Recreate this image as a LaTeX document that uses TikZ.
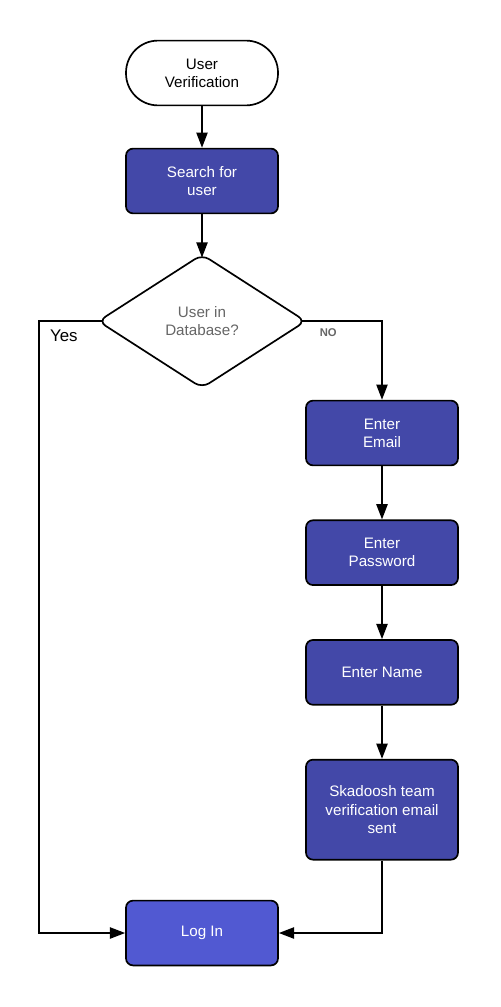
\documentclass[tikz,border=0pt]{standalone}
\usepackage{fontspec}
\setmainfont{Liberation Sans}
\usepackage{xcolor}
\usepackage{tikz}
\usetikzlibrary{positioning, arrows.meta, shapes.geometric, calc, backgrounds}

\definecolor{boxblue}{RGB}{67,72,168}
\definecolor{loginblue}{RGB}{81,89,210}
\definecolor{labelgray}{RGB}{102,102,102}

\begin{document}
\begin{tikzpicture}[
    >={Triangle[length=3.8mm, width=2.8mm]},
    node distance=1.33cm,
    every node/.style={font=\fontsize{10.8}{13}\selectfont},
    terminal/.style={draw, line width=1.2pt, rounded corners=0.8cm, minimum width=3.8cm, minimum height=1.62cm, align=center, fill=white},
    stepbox/.style={draw, line width=1.2pt, rounded corners=5pt, minimum width=3.8cm, minimum height=1.62cm, align=center, fill=boxblue, text=white},
    loginbox/.style={stepbox, fill=loginblue},
    decision/.style={draw, diamond, line width=1.2pt, rounded corners=6pt, minimum width=5.2cm, minimum height=3.35cm, inner sep=0pt, align=center, fill=white, text=labelgray},
    flow/.style={->, line width=1.2pt},
]
    \useasboundingbox (0,0) rectangle (12.5,-25.175);

    % 1. Start
    \node[terminal] (start) at (5.05,-1.825) {User\\Verification};

    % 2. Search
    \node[stepbox] (search) at (5.05,-4.525) {Search for\\user};

    % 3. Decision
    \node[decision] (indb) at (5.05,-8.03) {User in\\Database?};

    % 4. Sign-up column
    \node[stepbox] (email) at (9.55,-10.825) {Enter\\Email};
    \node[stepbox, below=of email] (password) {Enter\\Password};
    \node[stepbox, below=of password] (name) {Enter Name};
    \node[stepbox, below=of name, minimum height=2.5cm] (verify) {Skadoosh team\\verification email\\sent};

    % 5. Log in
    \node[loginbox] (login) at (5.05,-23.325) {Log In};

    % --- Connections ---
    \draw[flow] (start) -- (search);

    \begin{scope}[on background layer]
    \draw[flow] (search) -- ($(indb.north)+(0,-3pt)$);

    % No branch
    \draw[flow] (indb.center) -- (indb.east) -| (email.north);

    % Yes branch
    \coordinate (yes_turn) at ($(indb.west)+(-1.45,0)$);
    \draw[flow] (indb.center) -- (indb.west) -- (yes_turn) |- (login.west);
    \end{scope}

    \node[font=\fontsize{8}{9}\selectfont\bfseries, text=labelgray, below right=0.06cm and 0.2cm of indb.east] (nolabel) {NO};
    \node[font=\fontsize{12}{14}\selectfont, below right=0.1cm and 0.15cm of yes_turn] (yeslabel) {Yes};

    \draw[flow] (email) -- (password);
    \draw[flow] (password) -- (name);
    \draw[flow] (name) -- (verify);
    \draw[flow] (verify.south) |- (login.east);

\end{tikzpicture}
\end{document}
